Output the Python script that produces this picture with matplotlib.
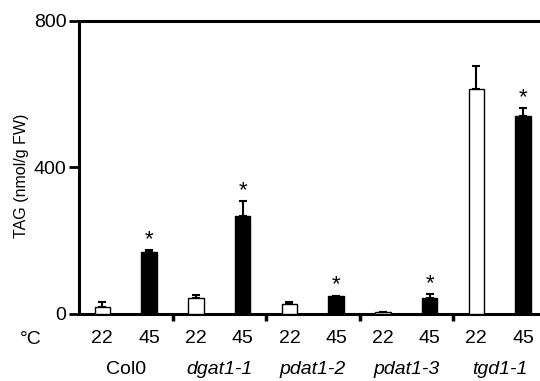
import matplotlib
matplotlib.use("Agg")
import matplotlib.pyplot as plt
import numpy as np

plt.rcParams['font.family'] = ['Liberation Sans', 'DejaVu Sans']

genotypes = ["Col0", "dgat1-1", "pdat1-2", "pdat1-3", "tgd1-1"]
genotype_italic = [False, True, True, True, True]
temps = ["22", "45"]
tag_22 = [19, 43, 26, 5, 613]
err_22 = [13, 10, 7, 1, 63]
tag_45 = [169, 268, 48, 44, 539]
err_45 = [5, 40, 2, 10, 22]
signif_45 = [True, True, True, True, True]
yticks = [0, 400, 800]

W, H = 540, 381
fig = plt.figure(figsize=(W / 100, H / 100), dpi=100)
x_left, x_right = 79, 546.5
y0, y800 = 314, 20.7
ax = fig.add_axes([x_left / W, (H - y0) / H, (x_right - x_left) / W, (y0 - y800) / H])

n = len(genotypes)
pos22 = np.arange(n) * 2
pos45 = pos22 + 1
bw = 0.33

ax.bar(pos22, tag_22, width=bw, color="white", edgecolor="black", linewidth=1.0, zorder=3)
ax.bar(pos45, tag_45, width=bw, color="black", edgecolor="black", linewidth=1.0, zorder=3)
ax.errorbar(pos22, tag_22, yerr=[np.zeros(n), err_22], fmt="none", ecolor="black",
            elinewidth=1.5, capsize=3, capthick=1.5, zorder=2)
ax.errorbar(pos45, tag_45, yerr=[np.zeros(n), err_45], fmt="none", ecolor="black",
            elinewidth=1.5, capsize=3, capthick=1.5, zorder=2)

for p, v, e, s in zip(pos45, tag_45, err_45, signif_45):
    if s:
        ax.annotate("*", (p, v + e), xytext=(0, 0), textcoords="offset points",
                    ha="center", va="bottom", fontsize=16, color="black")

ax.set_xlim(-0.5, 2 * n - 0.5)
ax.set_ylim(0, 800)
ax.set_yticks(yticks)
ax.set_yticklabels([str(t) for t in yticks], fontsize=14)
ax.tick_params(axis="y", direction="out", length=7, width=2, pad=2)

ax.set_xticks(np.arange(1.5, 2 * n - 2, 2), minor=True)
ax.set_xticks([])
ax.tick_params(axis="x", which="minor", direction="out", length=5, width=2.5)

for sp in ["left", "top", "bottom"]:
    ax.spines[sp].set_linewidth(2.2)
ax.spines["right"].set_visible(False)

ax.set_ylabel("TAG (nmol/g FW)", fontsize=11.5)
ax.yaxis.set_label_coords(-0.107, 0.47)

trans = ax.get_xaxis_transform()
for p22, p45 in zip(pos22, pos45):
    ax.text(p22, -0.085, temps[0], transform=trans, ha="center", va="center", fontsize=14)
    ax.text(p45, -0.085, temps[1], transform=trans, ha="center", va="center", fontsize=14)
for i, g in enumerate(genotypes):
    ax.text(pos22[i] + 0.5, -0.19, g, transform=trans, ha="center", va="center",
            fontsize=14, style="italic" if genotype_italic[i] else "normal")
fig.text(20 / W, 1 - 339 / H, "°C", ha="left", va="center", fontsize=14)

fig.savefig("out.png", dpi=100)
